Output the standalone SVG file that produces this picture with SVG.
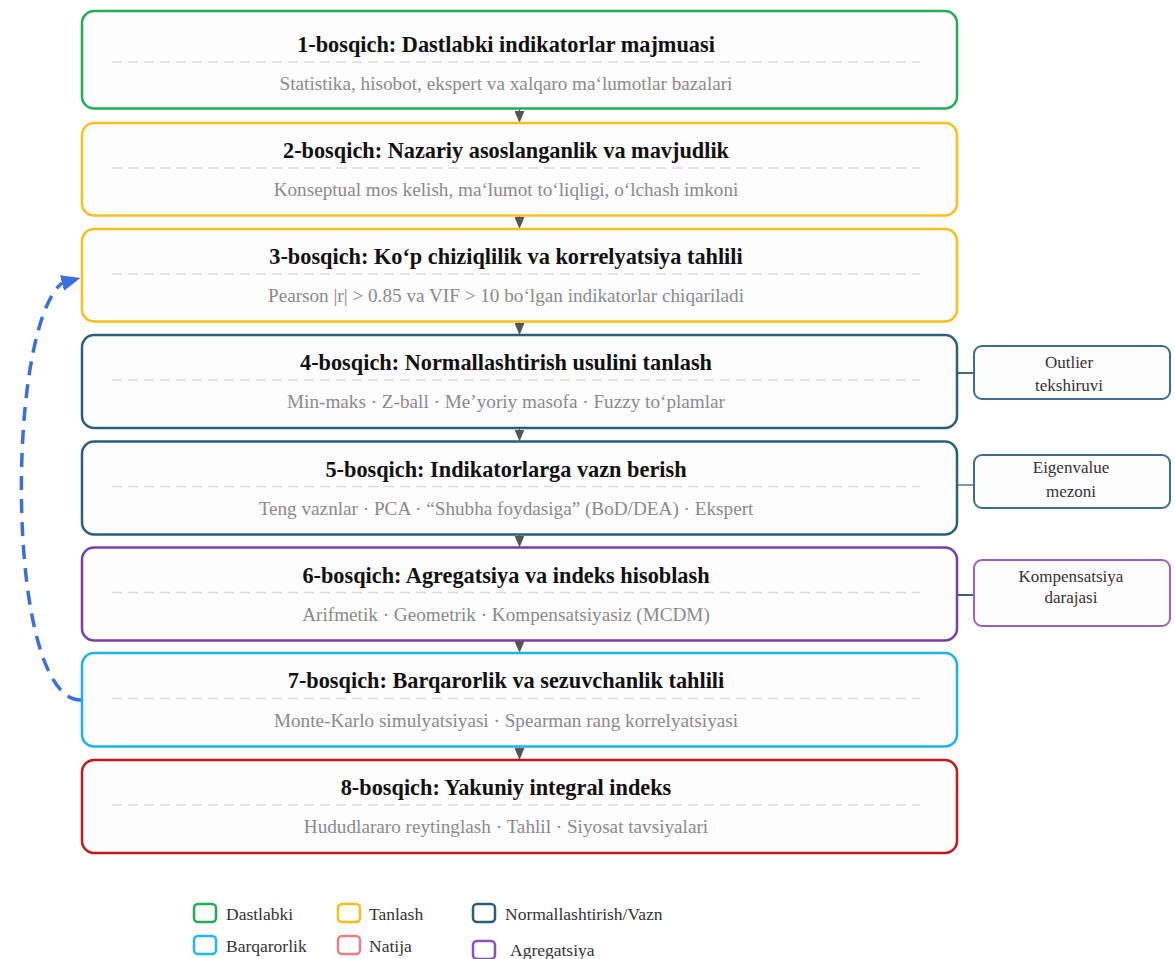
<svg xmlns="http://www.w3.org/2000/svg" width="1175" height="959" viewBox="0 0 1175 959">
<defs>
<style>
.box{fill:#fdfdfd;stroke-width:2.5}
.sep{stroke:#dcdcdc;stroke-width:1.5;stroke-dasharray:10 6}
.t{font-family:"Liberation Serif","Times New Roman",serif;font-weight:bold;font-size:22.3px;fill:#111;text-anchor:middle}
.s{font-family:"Liberation Serif","Times New Roman",serif;font-size:19.2px;fill:#8a8a8a;text-anchor:middle}
.side{fill:#fdfdfd;stroke-width:2}
.st{font-family:"Liberation Serif","Times New Roman",serif;font-size:17px;fill:#333;text-anchor:middle}
.lg{font-family:"Liberation Serif","Times New Roman",serif;font-size:17.5px;fill:#333}
.lsq{fill:#fff;stroke-width:2.5}
.flow{stroke:#555;stroke-width:1;marker-end:url(#tri)}
.green{stroke:#1fae54}.amber{stroke:#fbbf18}.navy{stroke:#2b5d7d}.purple{stroke:#7a3fa6}.sky{stroke:#18b4ee}.red{stroke:#c8161d}
</style>
<marker id="tri" viewBox="0 0 12 10" refX="12" refY="5" markerWidth="12" markerHeight="10" markerUnits="userSpaceOnUse" orient="auto">
<path d="M0,0 L12,5 L0,10 Z" fill="#555"/>
</marker>
<marker id="blue" viewBox="0 0 19 16" refX="0" refY="8" markerWidth="19" markerHeight="16" markerUnits="userSpaceOnUse" orient="-15">
<path d="M0,0 L19,8 L0,16 Z" fill="#3b6fe0"/>
</marker>
</defs>
<rect width="1175" height="959" fill="#ffffff"/>

<g id="connectors">
<path class="flow" d="M519.5,108 L519.5,123"/>
<path class="flow" d="M519.5,215 L519.5,229"/>
<path class="flow" d="M519.5,321 L519.5,335"/>
<path class="flow" d="M519.5,427.5 L519.5,441.5"/>
<path class="flow" d="M519.5,534 L519.5,547.5"/>
<path class="flow" d="M519.5,640 L519.5,653"/>
<path class="flow" d="M519.5,746 L519.5,760"/>
<line x1="957" y1="373" x2="974" y2="373" stroke="#4a6a80" stroke-width="2"/>
<line x1="957" y1="485" x2="974" y2="485" stroke="#7b9ab0" stroke-width="2"/>
<line x1="957" y1="595" x2="974" y2="595" stroke="#3d5f78" stroke-width="2"/>
<path d="M81,700 C5,700 5,330 62,283" fill="none" stroke="#3b6fe0" stroke-width="3.5" stroke-dasharray="14 9" marker-end="url(#blue)"/>
</g>

<g id="step1">
<rect class="box green" x="82" y="11" width="875" height="97.5" rx="12"/>
<text class="t" x="506" y="52">1-bosqich: Dastlabki indikatorlar majmuasi</text>
<line class="sep" x1="112" y1="62" x2="920" y2="62"/>
<text class="s" x="506" y="90">Statistika, hisobot, ekspert va xalqaro ma‘lumotlar bazalari</text>
</g>
<g id="step2">
<rect class="box amber" x="82" y="123" width="875" height="92.5" rx="12"/>
<text class="t" x="506" y="158">2-bosqich: Nazariy asoslanganlik va mavjudlik</text>
<line class="sep" x1="112" y1="168" x2="920" y2="168"/>
<text class="s" x="506" y="196">Konseptual mos kelish, ma‘lumot to‘liqligi, o‘lchash imkoni</text>
</g>
<g id="step3">
<rect class="box amber" x="82" y="229" width="875" height="92.5" rx="12"/>
<text class="t" x="506" y="264">3-bosqich: Ko‘p chiziqlilik va korrelyatsiya tahlili</text>
<line class="sep" x1="112" y1="274" x2="920" y2="274"/>
<text class="s" x="506" y="302">Pearson |r| &gt; 0.85 va VIF &gt; 10 bo‘lgan indikatorlar chiqariladi</text>
</g>
<g id="step4">
<rect class="box navy" x="82" y="335" width="875" height="93" rx="12"/>
<text class="t" x="506" y="370">4-bosqich: Normallashtirish usulini tanlash</text>
<line class="sep" x1="112" y1="380" x2="920" y2="380"/>
<text class="s" x="506" y="408">Min-maks · Z-ball · Me’yoriy masofa · Fuzzy to‘plamlar</text>
</g>
<g id="step5">
<rect class="box navy" x="82" y="441.5" width="875" height="93" rx="12"/>
<text class="t" x="506" y="476.5">5-bosqich: Indikatorlarga vazn berish</text>
<line class="sep" x1="112" y1="486.5" x2="920" y2="486.5"/>
<text class="s" x="506" y="514.5">Teng vaznlar · PCA · “Shubha foydasiga” (BoD/DEA) · Ekspert</text>
</g>
<g id="step6">
<rect class="box purple" x="82" y="547.5" width="875" height="93" rx="12"/>
<text class="t" x="506" y="582.5">6-bosqich: Agregatsiya va indeks hisoblash</text>
<line class="sep" x1="112" y1="592.5" x2="920" y2="592.5"/>
<text class="s" x="506" y="620.5">Arifmetik · Geometrik · Kompensatsiyasiz (MCDM)</text>
</g>
<g id="step7">
<rect class="box sky" x="82" y="653" width="875" height="93.5" rx="12"/>
<text class="t" x="506" y="688">7-bosqich: Barqarorlik va sezuvchanlik tahlili</text>
<line class="sep" x1="112" y1="698.5" x2="920" y2="698.5"/>
<text class="s" x="506" y="726.5">Monte-Karlo simulyatsiyasi · Spearman rang korrelyatsiyasi</text>
</g>
<g id="step8">
<rect class="box red" x="82" y="760" width="875" height="93" rx="12"/>
<text class="t" x="506" y="795">8-bosqich: Yakuniy integral indeks</text>
<line class="sep" x1="112" y1="805" x2="920" y2="805"/>
<text class="s" x="506" y="833">Hududlararo reytinglash · Tahlil · Siyosat tavsiyalari</text>
</g>

<g id="side-outlier">
<rect class="side" x="974" y="346" width="196" height="53" rx="8" stroke="#3e6e8e"/>
<text class="st" x="1069" y="368">Outlier</text>
<text class="st" x="1069" y="391">tekshiruvi</text>
</g>
<g id="side-eigen">
<rect class="side" x="974" y="455" width="196" height="53" rx="8" stroke="#3e6e8e"/>
<text class="st" x="1071" y="473">Eigenvalue</text>
<text class="st" x="1071" y="497">mezoni</text>
</g>
<g id="side-komp">
<rect class="side" x="974" y="560" width="196" height="66" rx="8" stroke="#9b60c2"/>
<text class="st" x="1071" y="582">Kompensatsiya</text>
<text class="st" x="1071" y="603">darajasi</text>
</g>

<g id="legend">
<rect class="lsq" x="194" y="904" width="22" height="18" rx="4" stroke="#1fae54"/>
<text class="lg" x="226" y="920">Dastlabki</text>
<rect class="lsq" x="338" y="904" width="22" height="18" rx="4" stroke="#fbbf18"/>
<text class="lg" x="369" y="920">Tanlash</text>
<rect class="lsq" x="473" y="904" width="22" height="18" rx="4" stroke="#2b5d7d"/>
<text class="lg" x="505" y="920">Normallashtirish/Vazn</text>
<rect class="lsq" x="194" y="936" width="22" height="18" rx="4" stroke="#22b8f0"/>
<text class="lg" x="226" y="952">Barqarorlik</text>
<rect class="lsq" x="338" y="936" width="22" height="18" rx="4" stroke="#e88080"/>
<text class="lg" x="369" y="952">Natija</text>
<rect class="lsq" x="473" y="941" width="22" height="18" rx="4" stroke="#8a4fc0"/>
<text class="lg" x="510" y="956">Agregatsiya</text>
</g>
</svg>
